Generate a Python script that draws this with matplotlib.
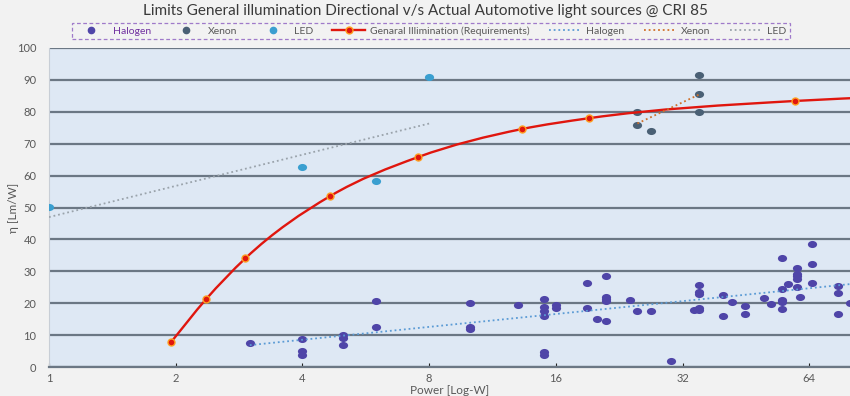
import numpy as np
import matplotlib.pyplot as plt
from matplotlib.path import Path
from matplotlib.patches import PathPatch
from matplotlib.markers import MarkerStyle
from matplotlib.transforms import Affine2D
from matplotlib.lines import Line2D

plt.rcParams['font.family'] = ['Lato', 'DejaVu Sans']

# halogen lamps: power [W], efficacy [lm/W]
halogen_w = [3, 4, 4, 4, 5, 5, 5, 6, 6, 10, 10, 10, 13,
             15, 15, 15, 15, 15, 15, 16, 16, 19, 19, 20,
             21, 21, 21, 21, 21, 24, 25, 27, 30, 34,
             35, 35, 35, 35, 35, 40, 40, 42, 45, 45, 50, 52,
             55, 55, 55, 55, 55, 57, 60, 60, 60, 60, 60, 61,
             65, 65, 65, 75, 75, 75, 80]
halogen_eff = [7.4, 8.7, 5.1, 3.8, 10.0, 9.0, 7.0, 20.8, 12.6, 20.0, 12.5, 11.9, 19.3,
               21.3, 18.8, 17.5, 16.1, 4.8, 3.7, 19.3, 18.6, 26.3, 18.4, 15.0,
               28.6, 21.9, 21.3, 20.7, 14.3, 20.9, 17.5, 17.7, 1.9, 17.8,
               25.8, 23.6, 22.9, 18.6, 17.8, 22.6, 16.1, 20.3, 19.2, 16.7, 21.5, 19.8,
               34.1, 24.5, 21.0, 20.3, 18.2, 25.9, 31.0, 29.2, 28.5, 27.5, 25.0, 21.8,
               38.5, 32.3, 26.2, 25.4, 23.3, 16.7, 20.1]

xenon_w = [25, 25, 27, 35, 35, 35]
xenon_eff = [80.0, 76.0, 74.1, 91.4, 85.7, 80.0]

led_w = [1, 4, 6, 8]
led_eff = [50.2, 62.7, 58.3, 90.9]

# general illumination requirement curve
req_w = [1.95, 2.36, 2.93, 4.66, 7.53, 13.3, 19.2, 59.3, 100]
req_eff = [7.8, 21.2, 34.1, 53.6, 65.8, 74.6, 78.0, 83.4, 84.8]

xticks = [1, 2, 4, 8, 16, 32, 64]


def smooth_path(xs, ys):
    # hermite -> bezier in log2(x) space, gives excel-like smoothed line
    lx = np.log2(xs)
    y = np.array(ys, dtype=float)
    n = len(lx)
    h = np.diff(lx)
    d = np.diff(y) / h
    m = np.zeros(n)
    m[0], m[-1] = d[0], d[-1]
    for i in range(1, n - 1):
        m[i] = (d[i - 1] * h[i] + d[i] * h[i - 1]) / (h[i - 1] + h[i])
    verts = [(xs[0], y[0])]
    codes = [Path.MOVETO]
    for i in range(n - 1):
        c1 = (2 ** (lx[i] + h[i] / 3), y[i] + m[i] * h[i] / 3)
        c2 = (2 ** (lx[i + 1] - h[i] / 3), y[i + 1] - m[i + 1] * h[i] / 3)
        verts += [c1, c2, (xs[i + 1], y[i + 1])]
        codes += [Path.CURVE4] * 3
    return Path(verts, codes)


def log_trend(xs, ys):
    b, a = np.polyfit(np.log2(xs), ys, 1)
    x = np.array([min(xs), max(xs)], dtype=float)
    return x, a + b * np.log2(x)


fig = plt.figure(figsize=(8.5, 3.96), dpi=100, facecolor='#f2f2f2')
ax = fig.add_axes([0.0576, 0.0732, 0.9424, 0.8056])
ax.set_facecolor('#dee8f4')

ell = MarkerStyle('o', transform=Affine2D().scale(1.3, 1.0))

ax.scatter(halogen_w, halogen_eff, marker=ell, s=26, color='#4f45a8', zorder=3, linewidths=0)
ax.scatter(xenon_w, xenon_eff, marker=ell, s=26, color='#4a6075', zorder=3, linewidths=0)
ax.scatter(led_w, led_eff, marker=ell, s=26, color='#3a9fd0', zorder=3, linewidths=0)

ax.add_patch(PathPatch(smooth_path(req_w, req_eff), fill=False, edgecolor='#e0160e', lw=1.7, zorder=4))
ax.plot(req_w, req_eff, ls='none', marker='o', ms=5, mfc='#e0160e', mec='#ffa020', mew=1.0, zorder=5)

dots = (0, (1, 1.6))
tx, ty = log_trend(halogen_w, halogen_eff)
ax.plot(tx, ty, ls=dots, color='#5b9bd5', lw=1.3, zorder=4)
tx, ty = log_trend(xenon_w, xenon_eff)
ax.plot(tx, ty, ls=dots, color='#d0702a', lw=1.3, zorder=4)
tx, ty = log_trend(led_w, led_eff)
ax.plot(tx, ty, ls=dots, color='#9aa3ab', lw=1.3, zorder=4)

ax.set_xscale('log', base=2)
ax.set_xlim(1, 80)
ax.set_ylim(0, 100)
ax.set_xticks(xticks)
ax.set_xticklabels([str(v) for v in xticks])
ax.minorticks_off()
ax.set_yticks(range(0, 101, 10))

ax.yaxis.grid(True, color='#6b7784', lw=1.6)
ax.set_axisbelow(True)
for s in ['top', 'right']:
    ax.spines[s].set_visible(False)
ax.spines['left'].set_color('#c8ced6')
ax.spines['bottom'].set_color('#6b7784')
ax.spines['bottom'].set_linewidth(1.6)
ax.tick_params(axis='y', length=0, labelsize=8, labelcolor='#595959', pad=9)
ax.tick_params(axis='x', direction='in', length=3, color='#222222', labelsize=8,
               labelcolor='#595959', pad=4)

ax.set_xlabel('Power [Log-W]', fontsize=8.5, color='#595959')
ax.xaxis.set_label_coords(0.5, -0.056)
ax.set_ylabel('η [Lm/W]', fontsize=8.5, color='#595959')
ax.yaxis.set_label_coords(-0.038, 0.5)

fig.text(0.5, 0.972, 'Limits General illumination Directional v/s Actual Automotive light sources @ CRI 85',
         ha='center', va='center', fontsize=11, color='#3a3a3a')

handles = [
    Line2D([], [], ls='none', marker='o', ms=4.5, color='#4f45a8'),
    Line2D([], [], ls='none', marker='o', ms=4.5, color='#4a6075'),
    Line2D([], [], ls='none', marker='o', ms=4.5, color='#3a9fd0'),
    Line2D([], [], color='#e0160e', lw=1.7, marker='o', ms=5, mfc='#e0160e', mec='#ffa020'),
    Line2D([], [], ls=dots, color='#5b9bd5', lw=1.3),
    Line2D([], [], ls=dots, color='#d0702a', lw=1.3),
    Line2D([], [], ls=dots, color='#9aa3ab', lw=1.3),
]
labels = ['Halogen', 'Xenon', 'LED', 'Genaral Illimination (Requirements)', 'Halogen', 'Xenon', 'LED']
leg = fig.legend(handles, labels, loc='center', bbox_to_anchor=(0.507, 0.922), ncol=7,
                 fontsize=7.5, frameon=True, fancybox=False, handlelength=3.1,
                 columnspacing=1.85, handletextpad=0.5, borderpad=0.3, borderaxespad=0)
leg.get_frame().set_edgecolor('#8a5cc0')
leg.get_frame().set_linestyle((0, (3, 2)))
leg.get_frame().set_facecolor('#f2f2f2')
leg.get_frame().set_linewidth(0.9)
for i, t in enumerate(leg.get_texts()):
    t.set_color('#7030a0' if i == 0 else '#595959')

fig.savefig('out.png', dpi=100, facecolor=fig.get_facecolor())
